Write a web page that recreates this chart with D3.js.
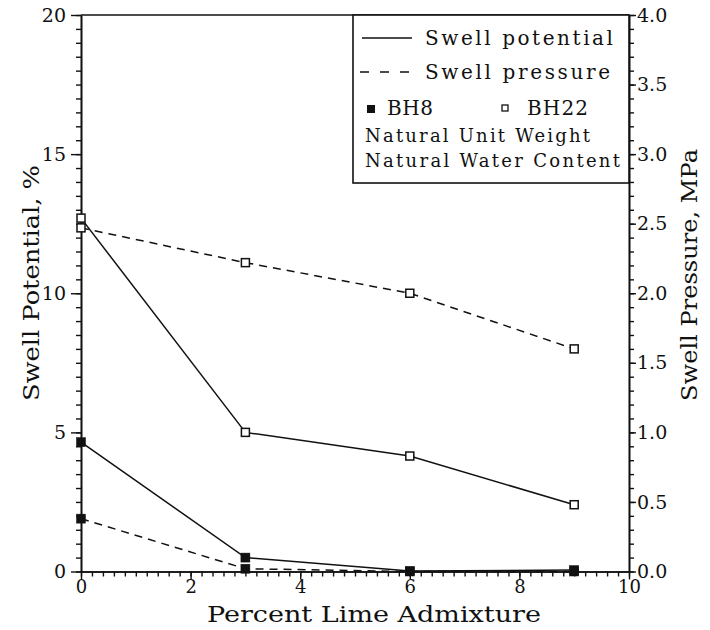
<!DOCTYPE html>
<html>
<head>
<meta charset="utf-8">
<script src="https://cdn.jsdelivr.net/npm/d3@7"></script>
<style>
  body { margin: 0; background: #fff; }
  text { font-family: "DejaVu Serif", "Liberation Serif", serif; fill: #111; }
</style>
</head>
<body>
<svg id="chart" width="710" height="630"></svg>
<script>
// ---- data ----
const limePercent = [0, 3, 6, 9];
const bh22Potential = [12.7, 5.0, 4.15, 2.4];    // %
const bh22Pressure  = [2.47, 2.22, 2.0, 1.6];    // MPa
const bh8Potential  = [4.65, 0.5, 0.02, 0.05];   // %
const bh8Pressure   = [0.38, 0.02, 0.0, 0.0];    // MPa
const xTicks = [0, 2, 4, 6, 8, 10];
const leftTicks = [0, 5, 10, 15, 20];
const rightTicks = [0, 0.5, 1.0, 1.5, 2.0, 2.5, 3.0, 3.5, 4.0];
const legendLines = ["Swell potential", "Swell pressure"];
const legendBoreholes = ["BH8", "BH22"];
const legendNotes = ["Natural Unit Weight", "Natural Water Content"];

const svg = d3.select("#chart");
const ink = "#111";
const FONT = "'DejaVu Serif', serif";
const L = 81, R = 629, T = 15, B = 571.5;

const x = d3.scaleLinear().domain([0, 10]).range([L, R]);
const yL = d3.scaleLinear().domain([0, 20]).range([B, T]);
const yR = d3.scaleLinear().domain([0, 4]).range([B, T]);

// ---- axes ----
function styleAxis(fs) {
  return g => {
    g.selectAll("path.domain").attr("stroke", ink).attr("stroke-width", 1.6);
    g.selectAll(".tick line").attr("stroke", ink).attr("stroke-width", 1.4);
    g.selectAll("text").attr("font-size", fs).attr("fill", ink).attr("font-family", FONT);
  };
}

// minor ticks
svg.append("g").attr("transform", `translate(0,${B})`)
  .call(d3.axisBottom(x).tickValues(d3.range(0, 10.001, 0.2)).tickSize(5).tickSizeOuter(0).tickFormat(""))
  .call(styleAxis(18));
svg.append("g").attr("transform", `translate(${L},0)`)
  .call(d3.axisLeft(yL).tickValues(d3.range(0, 20.001, 0.5)).tickSize(5).tickSizeOuter(0).tickFormat(""))
  .call(styleAxis(18));
svg.append("g").attr("transform", `translate(${R},0)`)
  .call(d3.axisRight(yR).tickValues(d3.range(0, 4.001, 0.1)).tickSize(5).tickSizeOuter(0).tickFormat(""))
  .call(styleAxis(18));

// major ticks
svg.append("g").attr("transform", `translate(0,${B})`)
  .call(d3.axisBottom(x).tickValues(xTicks).tickSize(8).tickSizeOuter(0).tickPadding(1).tickFormat(d3.format("d")))
  .call(styleAxis(18));
svg.append("g").attr("transform", `translate(${L},0)`)
  .call(d3.axisLeft(yL).tickValues(leftTicks).tickSize(10).tickSizeOuter(0).tickPadding(5).tickFormat(d3.format("d")))
  .call(styleAxis(19));
svg.append("g").attr("transform", `translate(${R},0)`)
  .call(d3.axisRight(yR).tickValues(rightTicks).tickSize(7).tickSizeOuter(0).tickPadding(1).tickFormat(d3.format(".1f")))
  .call(styleAxis(19));

// top frame line
svg.append("line").attr("x1", L).attr("x2", R).attr("y1", T).attr("y2", T)
  .attr("stroke", ink).attr("stroke-width", 1.6);

// axis titles
svg.append("text").attr("x", 374).attr("y", 622).attr("text-anchor", "middle")
  .attr("font-size", 23).attr("textLength", 334).attr("lengthAdjust", "spacingAndGlyphs")
  .text("Percent Lime Admixture");
svg.append("text").attr("transform", `translate(31,283) rotate(-90)`)
  .attr("text-anchor", "middle").attr("dominant-baseline", "central")
  .attr("font-size", 23).attr("textLength", 236).attr("lengthAdjust", "spacingAndGlyphs")
  .text("Swell Potential, %");
svg.append("text").attr("transform", `translate(689,275) rotate(-90)`)
  .attr("text-anchor", "middle").attr("dominant-baseline", "central")
  .attr("font-size", 23).attr("textLength", 252).attr("lengthAdjust", "spacingAndGlyphs")
  .text("Swell Pressure, MPa");

// ---- series ----
const series = [
  { vals: bh22Potential, scale: yL, dash: null, filled: false },
  { vals: bh22Pressure,  scale: yR, dash: "8,6", filled: false },
  { vals: bh8Potential,  scale: yL, dash: null, filled: true },
  { vals: bh8Pressure,   scale: yR, dash: "8,6", filled: true },
];
series.forEach(s => {
  const pts = limePercent.map((p, i) => [x(p), s.scale(s.vals[i])]);
  svg.append("path").attr("d", d3.line()(pts))
    .attr("fill", "none").attr("stroke", ink).attr("stroke-width", 1.5)
    .attr("stroke-dasharray", s.dash);
  const sz = s.filled ? 9 : 8;
  svg.append("g").selectAll("rect").data(pts).join("rect")
    .attr("x", d => d[0] - sz / 2).attr("y", d => d[1] - sz / 2)
    .attr("width", sz).attr("height", sz)
    .attr("fill", s.filled ? ink : "#fff")
    .attr("stroke", ink).attr("stroke-width", s.filled ? 0.5 : 1.5);
});

// ---- legend ----
const lg = svg.append("g");
lg.append("rect").attr("x", 353).attr("y", T).attr("width", R - 353).attr("height", 183 - T)
  .attr("fill", "#fff").attr("stroke", ink).attr("stroke-width", 1.6);
lg.append("line").attr("x1", 362).attr("x2", 412).attr("y1", 38).attr("y2", 38)
  .attr("stroke", ink).attr("stroke-width", 1.5);
function legText(str, xx, yy, len, fs) {
  lg.append("text").attr("x", xx).attr("y", yy).attr("font-size", fs)
    .attr("textLength", len).attr("lengthAdjust", "spacing").text(str);
}
legText(legendLines[0], 425, 45, 188, 20);
lg.append("line").attr("x1", 360).attr("x2", 412).attr("y1", 72).attr("y2", 72)
  .attr("stroke", ink).attr("stroke-width", 1.5).attr("stroke-dasharray", "9,11");
legText(legendLines[1], 425, 79, 185, 20);
lg.append("rect").attr("x", 367).attr("y", 105).attr("width", 8).attr("height", 8).attr("fill", ink);
legText(legendBoreholes[0], 387, 115, 46, 20);
lg.append("rect").attr("x", 502).attr("y", 105).attr("width", 6).attr("height", 6)
  .attr("fill", "#fff").attr("stroke", ink).attr("stroke-width", 1.3);
legText(legendBoreholes[1], 527, 115, 61, 20);
legText(legendNotes[0], 365, 142, 225, 18);
legText(legendNotes[1], 365, 167, 255, 18);
</script>
</body>
</html>
